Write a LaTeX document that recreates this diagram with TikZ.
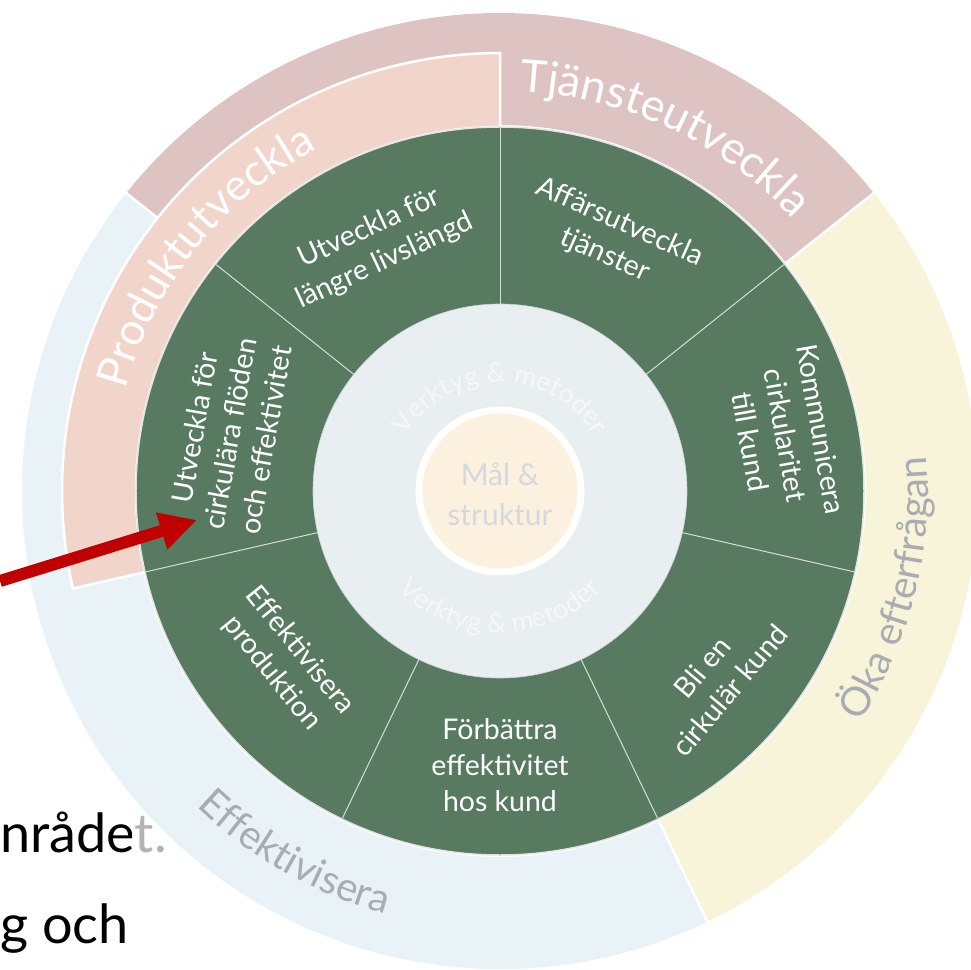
\documentclass[tikz,border=0pt]{standalone}
\usepackage{fontspec}
\setmainfont{Lato}
\usepackage{tikz}
\usetikzlibrary{arrows.meta,decorations.text}

\definecolor{ringgreen}{HTML}{577A60}
\definecolor{toolgray}{HTML}{E9EEF1}
\definecolor{goalcream}{HTML}{FCF0DF}
\definecolor{goaltext}{HTML}{D4D8DF}
\definecolor{servicepink}{HTML}{DEC3C3}
\definecolor{productsalmon}{HTML}{F2D5CA}
\definecolor{demandyellow}{HTML}{F7F4D9}
\definecolor{effblue}{HTML}{E8F2F7}
\definecolor{labelgray}{HTML}{A9ACB3}
\definecolor{arrowred}{HTML}{C00000}

\tikzset{%
   segment label/.style={
    text=white,
    align=center,
    inner sep=0pt,
    font=\fontsize{28.5}{36}\selectfont
  },
  divider/.style={draw=white!75!ringgreen, line width=1pt},
  ring gap/.style={draw=white, line width=2.5pt},
  slide text/.style={text=black, inner sep=0pt, font=\fontsize{54}{54}\selectfont},
}

\begin{document}
\begin{tikzpicture}[x=1pt, y=1pt, >=Triangle]

\useasboundingbox (-500,-478) rectangle (471,491);

% text of the slide behind the wheel
\node [slide text, anchor=base west] (slide-1) at (-500,-361) {nrådet.};
\node [slide text, anchor=base west] (slide-2) at (-500,-452) {g och};
\fill [white, fill opacity=0.7] (-368,-478) rectangle (471,491);

%%%%%%%%%%%%%%%%%%%%%%%%%%%%%%%%%%%%%%%%%%%%%%%%%%%%%%%%%%%%%%%%%%%%%%%%%%%%%
% outer ring

\fill [servicepink] (38.57:366pt) arc [start angle=38.57, end angle=141.43, radius=366pt]
  -- (141.43:478pt) arc [start angle=141.43, end angle=38.57, radius=478pt] -- cycle;
\fill [effblue] (141.43:366pt) arc [start angle=141.43, end angle=295.71, radius=366pt]
  -- (295.71:478pt) arc [start angle=295.71, end angle=141.43, radius=478pt] -- cycle;
\fill [demandyellow] (-64.29:366pt) arc [start angle=-64.29, end angle=38.57, radius=366pt]
  -- (38.57:478pt) arc [start angle=38.57, end angle=-64.29, radius=478pt] -- cycle;

\foreach \a in {38.57,141.43,295.71}
  \draw [ring gap] (\a:364pt) -- (\a:480pt);

\filldraw [productsalmon, ring gap] (90:364pt) arc [start angle=90, end angle=192.86, radius=364pt]
  -- (192.86:438pt) arc [start angle=192.86, end angle=90, radius=438pt] -- cycle;

%%%%%%%%%%%%%%%%%%%%%%%%%%%%%%%%%%%%%%%%%%%%%%%%%%%%%%%%%%%%%%%%%%%%%%%%%%%%%
% green ring and centre

\filldraw [fill=ringgreen, draw=white!78!gray, line width=1.5pt] (0,0) circle [radius=364pt];
\filldraw [fill=toolgray, draw=toolgray!75!gray, line width=0.6pt] (0,0) circle [radius=187pt];

\foreach \k in {0,...,6}
  \draw [divider] ({90+\k*360/7}:187pt) -- ({90+\k*360/7}:363pt);

\filldraw [fill=goalcream, draw=white, line width=7pt] (0,0) circle [radius=81pt];

\node [text=goaltext, align=center, font=\fontsize{30}{40}\selectfont] (goal) at (0,-3) {Mål \&\\struktur};

%%%%%%%%%%%%%%%%%%%%%%%%%%%%%%%%%%%%%%%%%%%%%%%%%%%%%%%%%%%%%%%%%%%%%%%%%%%%%
% labels

\node [segment label, rotate=25]  (seg-1) at (116.5:275pt) {Utveckla för\\längre livslängd};
\node [segment label, rotate=80]  (seg-2) at (168:276pt) {Utveckla för\\cirkulära flöden\\och effektivitet};
\node [segment label, rotate=-51] (seg-3) at (218.6:274pt) {Effektivisera\\produktion};
\node [segment label]             (seg-4) at (270:274pt) {Förbättra\\effektivitet\\hos kund};
\node [segment label, rotate=50]  (seg-5) at (319:286pt) {Bli en\\cirkulär kund};
\node [segment label, rotate=-80] (seg-6) at (11:291pt) {Kommunicera\\cirkularitet\\till kund};
\node [segment label, rotate=-24] (seg-7) at (66:276pt) {Affärsutveckla\\tjänster};

\path [decorate, decoration={text along path, text align=center,
    text={|\fontsize{45}{45}\selectfont\color{white}|Tjänsteutveckla}}]
  (100:400pt) arc [start angle=100, end angle=30, radius=400pt];
\path [decorate, decoration={text along path, text align=center,
    text={|\fontsize{44}{44}\selectfont\color{white}|Produktutveckla}}]
  (195:388pt) arc [start angle=195, end angle=88, radius=388pt];
\path [decorate, decoration={text along path, text align=center,
    text={|\fontsize{40}{40}\selectfont\color{labelgray}|Öka efterfrågan}}]
  (-50:428pt) arc [start angle=-50, end angle=22, radius=428pt];
\path [decorate, decoration={text along path, text align=center,
    text={|\fontsize{40}{40}\selectfont\color{labelgray}|Effektivisera}}]
  (215:438pt) arc [start angle=215, end angle=266, radius=438pt];

\path [decorate, decoration={text along path, text align=center,
    text={|\fontsize{27}{27}\selectfont\color{white!55!toolgray}|Verktyg {\&} metoder}}]
  (165:109pt) arc [start angle=165, end angle=15, radius=109pt];
\path [decorate, decoration={text along path, text align=center,
    text={|\fontsize{27}{27}\selectfont\color{white!55!toolgray}|Verktyg {\&} metoder}}]
  (200:142pt) arc [start angle=200, end angle=340, radius=142pt];

%%%%%%%%%%%%%%%%%%%%%%%%%%%%%%%%%%%%%%%%%%%%%%%%%%%%%%%%%%%%%%%%%%%%%%%%%%%%%
% pointer

\coordinate (arrow-start) at (-500,-90);
\coordinate (arrow-end) at (-303,-29);
\draw [->, arrowred, line width=12pt, arrows={-Triangle[length=37pt, width=36pt]}]
  (arrow-start) -- (arrow-end);

\end{tikzpicture}
\end{document}
